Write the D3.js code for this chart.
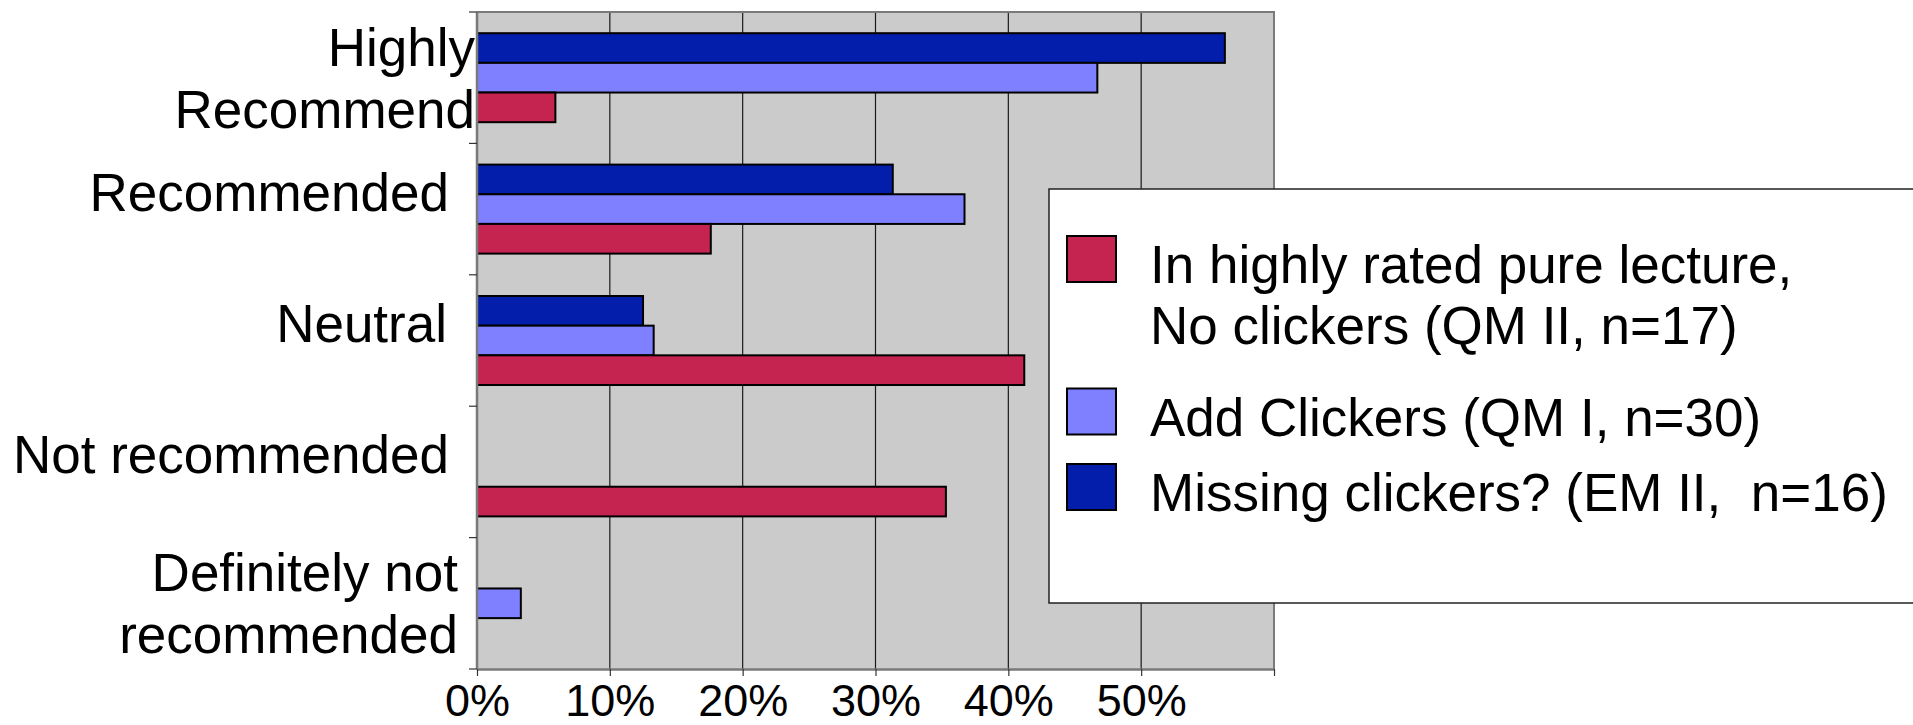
<!DOCTYPE html>
<html>
<head>
<meta charset="utf-8">
<script src="https://cdn.jsdelivr.net/npm/d3@7"></script>
<style>
  html, body { margin: 0; padding: 0; background: #ffffff; }
  svg { display: block; font-family: "Liberation Sans", Arial, sans-serif; }
  text { white-space: pre; }
</style>
</head>
<body>
<svg id="chart" width="1913" height="725"></svg>
<script>
// Response categories (top to bottom) and how each label is broken into lines
const categories = ["Highly Recommended", "Recommended", "Neutral", "Not recommended", "Definitely not recommended"];
const categoryLines = [["Highly", "Recommend"], ["Recommended"], ["Neutral"], ["Not recommended"], ["Definitely not", "recommended"]];

// Percent of students choosing each response
const pureLecture     = [5.9, 17.6, 41.2, 35.3, 0];   // QM II, n=17
const addClickers     = [46.7, 36.7, 13.3, 0, 3.3];   // QM I, n=30
const missingClickers = [56.3, 31.3, 12.5, 0, 0];     // EM II, n=16

// Legend entries (each may span several lines)
const legendLabels = [
  ["In highly rated pure lecture,", "No clickers (QM II, n=17)"],
  ["Add Clickers (QM I, n=30)"],
  ["Missing clickers? (EM II,  n=16)"]
];

// Axis ticks
const tickValues = [0, 10, 20, 30, 40, 50, 60];
const tickLabels = ["0%", "10%", "20%", "30%", "40%", "50%", ""];

// ---- layout & styles ----
const plot = { left: 477, right: 1274, top: 12, bottom: 669 };
const colors = { pure: "#c4244f", add: "#7f80ff", missing: "#031eab" };
const labelGap = [2, 28, 30, 28, 19];
const legendBaselines = [283, 435.5, 511];

const series = [
  { key: "missing", values: missingClickers, color: colors.missing },
  { key: "add", values: addClickers, color: colors.add },
  { key: "pure", values: pureLecture, color: colors.pure }
];

const svg = d3.select("#chart");

const x = d3.scaleLinear().domain([0, 60]).range([plot.left, plot.right]);
const y = d3.scaleBand().domain(categories).range([plot.top, plot.bottom])
  .paddingInner(0.3227).paddingOuter(0.16135);
const ySub = d3.scaleBand().domain(series.map(s => s.key)).range([0, y.bandwidth()]);

// plot background
svg.append("rect")
  .attr("x", plot.left).attr("y", plot.top)
  .attr("width", plot.right - plot.left).attr("height", plot.bottom - plot.top)
  .attr("fill", "#cbcbcb");

// vertical gridlines
svg.append("g").selectAll("line")
  .data(tickValues.filter(v => v > 0 && v < 60))
  .join("line")
  .attr("x1", d => x(d)).attr("x2", d => x(d))
  .attr("y1", plot.top).attr("y2", plot.bottom)
  .attr("stroke", "#1a1a1a").attr("stroke-width", 1.2);

// plot frame (top and right)
svg.append("path")
  .attr("d", `M${plot.left},${plot.top}H${plot.right}V${plot.bottom}`)
  .attr("fill", "none").attr("stroke", "#7a7a7a").attr("stroke-width", 2);

// bars
const groups = svg.append("g").selectAll("g")
  .data(categories)
  .join("g")
  .attr("transform", d => `translate(0,${y(d)})`);

groups.selectAll("rect")
  .data((d, i) => series.map(s => ({ key: s.key, value: s.values[i], color: s.color })).filter(b => b.value > 0))
  .join("rect")
  .attr("x", x(0))
  .attr("y", d => ySub(d.key))
  .attr("width", d => x(d.value) - x(0))
  .attr("height", ySub.bandwidth())
  .attr("fill", d => d.color)
  .attr("stroke", "#000").attr("stroke-width", 2);

// bottom axis
const xAxis = d3.axisBottom(x).tickValues(tickValues)
  .tickFormat((d, i) => tickLabels[i]).tickSize(7).tickSizeOuter(0).tickPadding(6);
const gx = svg.append("g").attr("transform", `translate(0,${plot.bottom})`).call(xAxis);
gx.select(".domain").attr("stroke", "#7a7a7a").attr("stroke-width", 2.5);
gx.selectAll(".tick line").attr("stroke", "#333").attr("stroke-width", 1.2);
gx.selectAll(".tick text")
  .attr("font-size", 45).attr("fill", "#000")
  .attr("font-family", "'Liberation Sans', Arial, sans-serif")
  .attr("dy", null).attr("y", 47);

// left axis with ticks on the category boundaries
svg.append("line")
  .attr("x1", plot.left).attr("x2", plot.left)
  .attr("y1", plot.top).attr("y2", plot.bottom)
  .attr("stroke", "#7a7a7a").attr("stroke-width", 2.5);
const boundaries = d3.range(categories.length + 1).map(i => plot.top + i * y.step());
svg.append("g").selectAll("line")
  .data(boundaries)
  .join("line")
  .attr("x1", plot.left - 8).attr("x2", plot.left)
  .attr("y1", d => d).attr("y2", d => d)
  .attr("stroke", "#333").attr("stroke-width", 1.2);

// category labels
const catLabels = svg.append("g").selectAll("text")
  .data(categories)
  .join("text")
  .attr("text-anchor", "end")
  .attr("font-size", 53)
  .attr("fill", "#000");
catLabels.each(function (d, i) {
  const lines = categoryLines[i];
  const cy = y(d) + y.bandwidth() / 2;
  const first = cy + 1.5 - 13.5 * (lines.length - 1);
  d3.select(this).selectAll("tspan")
    .data(lines)
    .join("tspan")
    .attr("x", plot.left - labelGap[i])
    .attr("y", (l, j) => first + j * 62)
    .text(l => l);
});

// legend
const legend = svg.append("g");
legend.append("rect")
  .attr("x", 1049).attr("y", 189)
  .attr("width", 900).attr("height", 414)
  .attr("fill", "#fff").attr("stroke", "#222").attr("stroke-width", 1.5);

const legendSeries = [series[2], series[1], series[0]];
legendSeries.forEach((s, i) => {
  const base = legendBaselines[i];
  legend.append("rect")
    .attr("x", 1067).attr("y", base - 47)
    .attr("width", 49).attr("height", 46)
    .attr("fill", s.color).attr("stroke", "#000").attr("stroke-width", 2);
  const t = legend.append("text").attr("font-size", 53).attr("fill", "#000");
  t.selectAll("tspan")
    .data(legendLabels[i])
    .join("tspan")
    .attr("x", 1150)
    .attr("y", (l, j) => base + j * 61)
    .text(l => l);
});
</script>
</body>
</html>
